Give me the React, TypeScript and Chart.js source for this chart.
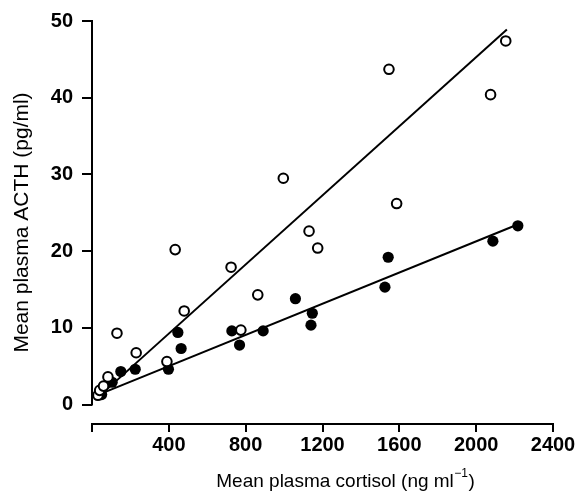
import React, { useEffect, useRef } from "react";
import { Chart, registerables } from "chart.js";

Chart.register(...registerables);

// Open circles
const openX = [31, 40, 60, 83, 130, 230, 390, 433, 480, 724, 775, 863, 996, 1130, 1175, 1546, 1586, 2075, 2154];
const openY = [1.2, 1.85, 2.4, 3.6, 9.3, 6.75, 5.6, 20.2, 12.2, 17.9, 9.7, 14.3, 29.5, 22.6, 20.4, 43.7, 26.2, 40.4, 47.4];

// Filled circles
const filledX = [50, 105, 150, 225, 398, 447, 464, 728, 768, 891, 1059, 1140, 1147, 1525, 1542, 2087, 2217];
const filledY = [1.3, 2.9, 4.3, 4.6, 4.6, 9.4, 7.3, 9.6, 7.75, 9.6, 13.8, 10.35, 11.9, 15.3, 19.2, 21.3, 23.3];

// Regression lines (end points)
const openLineX = [25, 2160];
const openLineY = [0.8, 48.9];
const filledLineX = [25, 2200];
const filledLineY = [1.2, 23.3];

const xTicks = [0, 400, 800, 1200, 1600, 2000, 2400];
const yTicks = [0, 10, 20, 30, 40, 50];

const xTitleMain = "Mean plasma cortisol (ng ml";
const xTitleSup = "\u22121";
const xTitleEnd = ")";
const yTitle = "Mean plasma ACTH (pg/ml)";

const FONT = '"Liberation Sans", Arial, Helvetica, sans-serif';

const toPts = (xs: number[], ys: number[]) => xs.map((x, i) => ({ x, y: ys[i] }));

const customAxes = {
  id: "customAxes",
  afterDraw(chart: any) {
    const { ctx, chartArea, scales } = chart;
    const y = scales.y;
    ctx.save();
    ctx.strokeStyle = "#000";
    ctx.lineWidth = 2;
    ctx.beginPath();
    ctx.moveTo(chartArea.left, y.getPixelForValue(yTicks[0]) + 1);
    ctx.lineTo(chartArea.left, y.getPixelForValue(yTicks[yTicks.length - 1]) - 1);
    ctx.stroke();

    // x-axis title with superscript
    ctx.fillStyle = "#000";
    ctx.textBaseline = "middle";
    ctx.textAlign = "left";
    const mainFont = `19px ${FONT}`;
    const supFont = `12px ${FONT}`;
    ctx.font = mainFont;
    const w1 = ctx.measureText(xTitleMain).width;
    const w3 = ctx.measureText(xTitleEnd).width;
    ctx.font = supFont;
    const w2 = ctx.measureText(xTitleSup).width;
    const total = w1 + w2 + w3 + 1;
    const cx = chartArea.left + (chartArea.right - chartArea.left) * 0.55;
    const ty = 482;
    let sx = cx - total / 2;
    ctx.font = mainFont;
    ctx.fillText(xTitleMain, sx, ty);
    sx += w1 + 0.5;
    ctx.font = supFont;
    ctx.fillText(xTitleSup, sx, ty - 8);
    sx += w2 + 0.5;
    ctx.font = mainFont;
    ctx.fillText(xTitleEnd, sx, ty);
    ctx.restore();
  },
};

export default function App() {
  const ref = useRef<HTMLCanvasElement | null>(null);

  useEffect(() => {
    if (!ref.current) return;
    const chart = new Chart(ref.current, {
      type: "scatter",
      data: {
        datasets: [
          {
            label: "open",
            data: toPts(openX, openY),
            pointRadius: 4.8,
            pointBorderWidth: 2,
            pointBackgroundColor: "#fff",
            pointBorderColor: "#000",
            pointHoverRadius: 4.8,
            clip: false,
          } as any,
          {
            label: "filled",
            data: toPts(filledX, filledY),
            pointRadius: 5.6,
            pointBorderWidth: 0,
            pointBackgroundColor: "#000",
            pointBorderColor: "#000",
            clip: false,
          } as any,
          {
            label: "openLine",
            data: toPts(openLineX, openLineY),
            showLine: true,
            pointRadius: 0,
            borderColor: "#000",
            borderWidth: 2,
            clip: false,
          } as any,
          {
            label: "filledLine",
            data: toPts(filledLineX, filledLineY),
            showLine: true,
            pointRadius: 0,
            borderColor: "#000",
            borderWidth: 2,
            clip: false,
          } as any,
        ],
      },
      options: {
        animation: false,
        responsive: false,
        maintainAspectRatio: false,
        events: [],
        layout: { padding: { top: 21, right: 27, left: 0, bottom: 0 } },
        plugins: { legend: { display: false }, tooltip: { enabled: false } },
        scales: {
          x: {
            type: "linear",
            min: 0,
            max: 2400,
            afterBuildTicks: (s: any) => {
              s.ticks = xTicks.map((v) => ({ value: v }));
            },
            afterFit: (s: any) => {
              s.height = 75;
            },
            ticks: {
              color: "#000",
              font: { family: FONT, size: 20, weight: "bold" },
              padding: 1,
              maxRotation: 0,
              autoSkip: false,
              callback: (v: any) => (v === 0 ? "" : String(v)),
            },
            grid: {
              drawOnChartArea: false,
              drawTicks: true,
              tickLength: 8,
              lineWidth: 2,
              color: "#000",
            },
            border: { display: true, color: "#000", width: 2 },
          },
          y: {
            type: "linear",
            min: -2.54,
            max: 50,
            afterBuildTicks: (s: any) => {
              s.ticks = yTicks.map((v) => ({ value: v }));
            },
            afterFit: (s: any) => {
              s.width = 92;
            },
            ticks: {
              color: "#000",
              font: { family: FONT, size: 20, weight: "bold" },
              padding: 9,
              autoSkip: false,
            },
            grid: {
              drawOnChartArea: false,
              drawTicks: true,
              tickLength: 10,
              lineWidth: 2,
              color: "#000",
            },
            border: { display: false },
            title: {
              display: true,
              text: yTitle,
              color: "#000",
              font: { family: FONT, size: 21 },
              padding: { top: 10, bottom: 0 },
            },
          },
        },
      },
      plugins: [customAxes],
    });
    return () => chart.destroy();
  }, []);

  return (
    <div style={{ position: "fixed", left: 0, top: 0, width: 580, height: 499, background: "#fff" }}>
      <canvas ref={ref} width={580} height={499} style={{ width: 580, height: 499, display: "block" }} />
    </div>
  );
}
